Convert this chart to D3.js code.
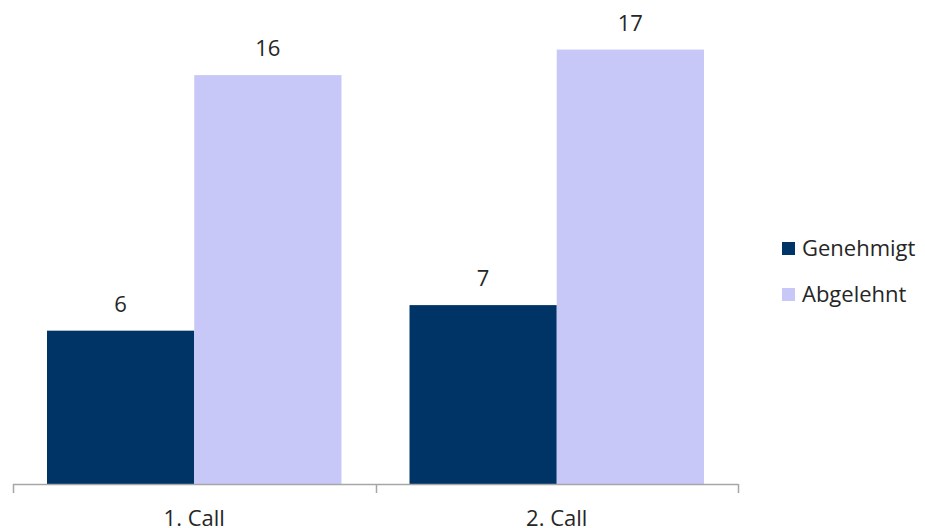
<!DOCTYPE html>
<html>
<head>
<meta charset="utf-8">
<script src="https://cdn.jsdelivr.net/npm/d3@7"></script>
<style>
  body { margin: 0; background: #fff; }
  text { font-family: "Open Sans", "Liberation Sans", sans-serif; fill: #262626; }
</style>
</head>
<body>
<svg id="chart"></svg>
<script>
const categories = ['1. Call', '2. Call'];
const seriesNames = ['Genehmigt', 'Abgelehnt'];
const seriesColors = ['#003366', '#C8C8F8'];
const genehmigt = [6, 7];
const abgelehnt = [16, 17];
const seriesValues = [genehmigt, abgelehnt];

const width = 925;
const height = 528;
const baseY = 484;
const fontSize = 22;

const svg = d3.select('#chart')
  .attr('width', width)
  .attr('height', height);

const x = d3.scaleBand()
  .domain(categories)
  .range([13, 738])
  .paddingInner(0.1876)
  .paddingOuter(0.0938);

const xSeries = d3.scaleBand()
  .domain(seriesNames)
  .range([0, x.bandwidth()]);

const y = d3.scaleLinear()
  .domain([0, 18])
  .range([baseY, baseY - 460]);

// bars
const groups = svg.selectAll('g.cat')
  .data(categories)
  .enter()
  .append('g')
  .attr('class', 'cat')
  .attr('transform', d => `translate(${x(d)},0)`);

groups.selectAll('rect')
  .data((d, i) => seriesNames.map((s, j) => ({ series: s, value: seriesValues[j][i], color: seriesColors[j] })))
  .enter()
  .append('rect')
  .attr('x', d => xSeries(d.series))
  .attr('width', xSeries.bandwidth())
  .attr('y', d => y(d.value))
  .attr('height', d => baseY - y(d.value))
  .attr('fill', d => d.color);

groups.selectAll('text.value')
  .data((d, i) => seriesNames.map((s, j) => ({ series: s, value: seriesValues[j][i] })))
  .enter()
  .append('text')
  .attr('class', 'value')
  .attr('x', d => xSeries(d.series) + xSeries.bandwidth() / 2)
  .attr('y', d => y(d.value) - 19)
  .attr('text-anchor', 'middle')
  .attr('font-size', fontSize)
  .text(d => d.value);

// x axis: line with ticks on category boundaries
const step = x.step();
const tickXs = d3.range(categories.length + 1).map(i => x.range()[0] + i * step);
const axis = svg.append('g').attr('class', 'x-axis');
axis.append('line')
  .attr('x1', x.range()[0])
  .attr('x2', x.range()[1])
  .attr('y1', baseY + 0.5)
  .attr('y2', baseY + 0.5)
  .attr('stroke', '#a6a6a6')
  .attr('stroke-width', 1.5);
axis.selectAll('line.tick')
  .data(tickXs)
  .enter()
  .append('line')
  .attr('class', 'tick')
  .attr('x1', d => Math.round(d) + 0.5)
  .attr('x2', d => Math.round(d) + 0.5)
  .attr('y1', baseY)
  .attr('y2', baseY + 9)
  .attr('stroke', '#a6a6a6')
  .attr('stroke-width', 1.5);
axis.selectAll('text')
  .data(categories)
  .enter()
  .append('text')
  .attr('x', d => x(d) + x.bandwidth() / 2)
  .attr('y', 526)
  .attr('text-anchor', 'middle')
  .attr('font-size', fontSize)
  .text(d => d);

// legend
const legend = svg.append('g').attr('transform', 'translate(782,242)');
const items = legend.selectAll('g')
  .data(seriesNames)
  .enter()
  .append('g')
  .attr('transform', (d, i) => `translate(0,${i * 46})`);
items.append('rect')
  .attr('width', 13)
  .attr('height', 13)
  .attr('fill', (d, i) => seriesColors[i]);
items.append('text')
  .attr('x', 20)
  .attr('y', 6.5)
  .attr('dy', '0.35em')
  .attr('font-size', fontSize)
  .text(d => d);
</script>
</body>
</html>
